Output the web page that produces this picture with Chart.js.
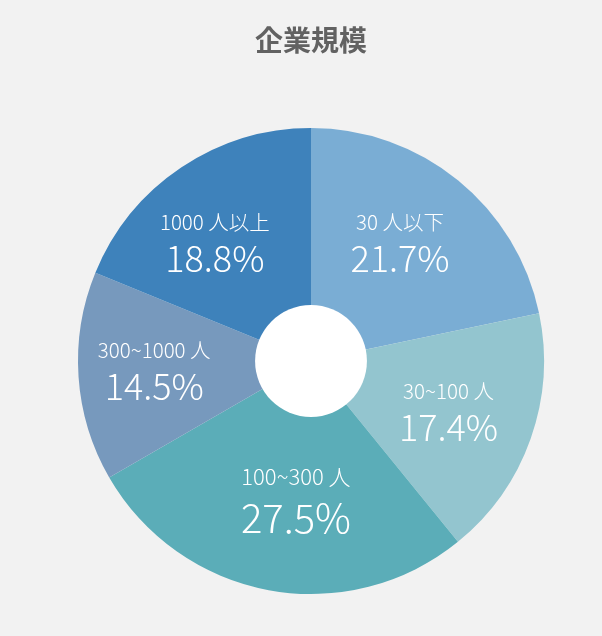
<!DOCTYPE html>
<html>
<head>
<meta charset="utf-8">
<script src="https://cdn.jsdelivr.net/npm/chart.js@4/dist/chart.umd.min.js"></script>
<style>
  html, body { margin: 0; padding: 0; background: #f2f2f2; }
  #wrap { width: 602px; height: 636px; }
</style>
</head>
<body>
<div id="wrap"><canvas id="sizeChart"></canvas></div>
<script>
var categories = ["30人以下", "30~100人", "100~300人", "300~1000人", "1000人以上"];
var shares = [21.7, 17.4, 27.5, 14.5, 18.8];
var sliceColors = ["#7aadd4", "#93c5cf", "#5badb8", "#7799bd", "#3e82bb"];

var fontFamily = "'Noto Sans CJK JP', 'Noto Sans', sans-serif";
// small hand nudges so the labels sit where the original put them
var labelNudge = [[-5, -5], [-3, -2], [12, -11], [-8, -3], [-13, 3]];

// white hole in the middle, then the labels on each slice
var sliceLabels = {
  id: "sliceLabels",
  afterDatasetsDraw: function(chart) {
    var ctx = chart.ctx;
    var arcs = chart.getDatasetMeta(0).data;
    if (!arcs.length) return;
    var cx = arcs[0].x, cy = arcs[0].y, r = arcs[0].outerRadius;
    var biggest = Math.max.apply(null, shares);

    ctx.save();
    ctx.fillStyle = "#ffffff";
    ctx.beginPath();
    ctx.arc(cx, cy, r * 0.24, 0, Math.PI * 2);
    ctx.fill();

    ctx.fillStyle = "#ffffff";
    ctx.textAlign = "center";
    ctx.textBaseline = "middle";
    arcs.forEach(function(arc, i) {
      var mid = (arc.startAngle + arc.endAngle) / 2;
      var x = cx + Math.cos(mid) * r * 0.64 + labelNudge[i][0];
      var y = cy + Math.sin(mid) * r * 0.64 + labelNudge[i][1];
      var big = shares[i] === biggest;
      ctx.font = "300 " + (big ? 22 : 20.5) + "px " + fontFamily;
      ctx.fillText(categories[i].replace("人", " 人"), x, y - (big ? 20 : 18));
      ctx.font = "300 " + (big ? 40 : 36) + "px " + fontFamily;
      ctx.fillText(shares[i].toFixed(1) + "%", x, y + (big ? 21 : 18));
    });
    ctx.restore();
  }
};

var ctx = document.getElementById("sizeChart");
var sizeChart = new Chart(ctx, {
  type: "pie",
  data: {
    labels: categories,
    datasets: [{
      data: shares,
      backgroundColor: sliceColors,
      borderWidth: 0
    }]
  },
  options: {
    responsive: true,
    maintainAspectRatio: false,
    animation: false,
    layout: { padding: { left: 20, right: 0, top: 0, bottom: 42 } },
    plugins: {
      legend: { display: false },
      tooltip: { enabled: false },
      title: {
        display: true,
        text: "企業規模",
        color: "#626262",
        font: { family: fontFamily, size: 28, weight: "bold", lineHeight: 1.0 },
        padding: { top: 26, bottom: 74 }
      }
    }
  },
  plugins: [sliceLabels]
});
</script>
</body>
</html>
